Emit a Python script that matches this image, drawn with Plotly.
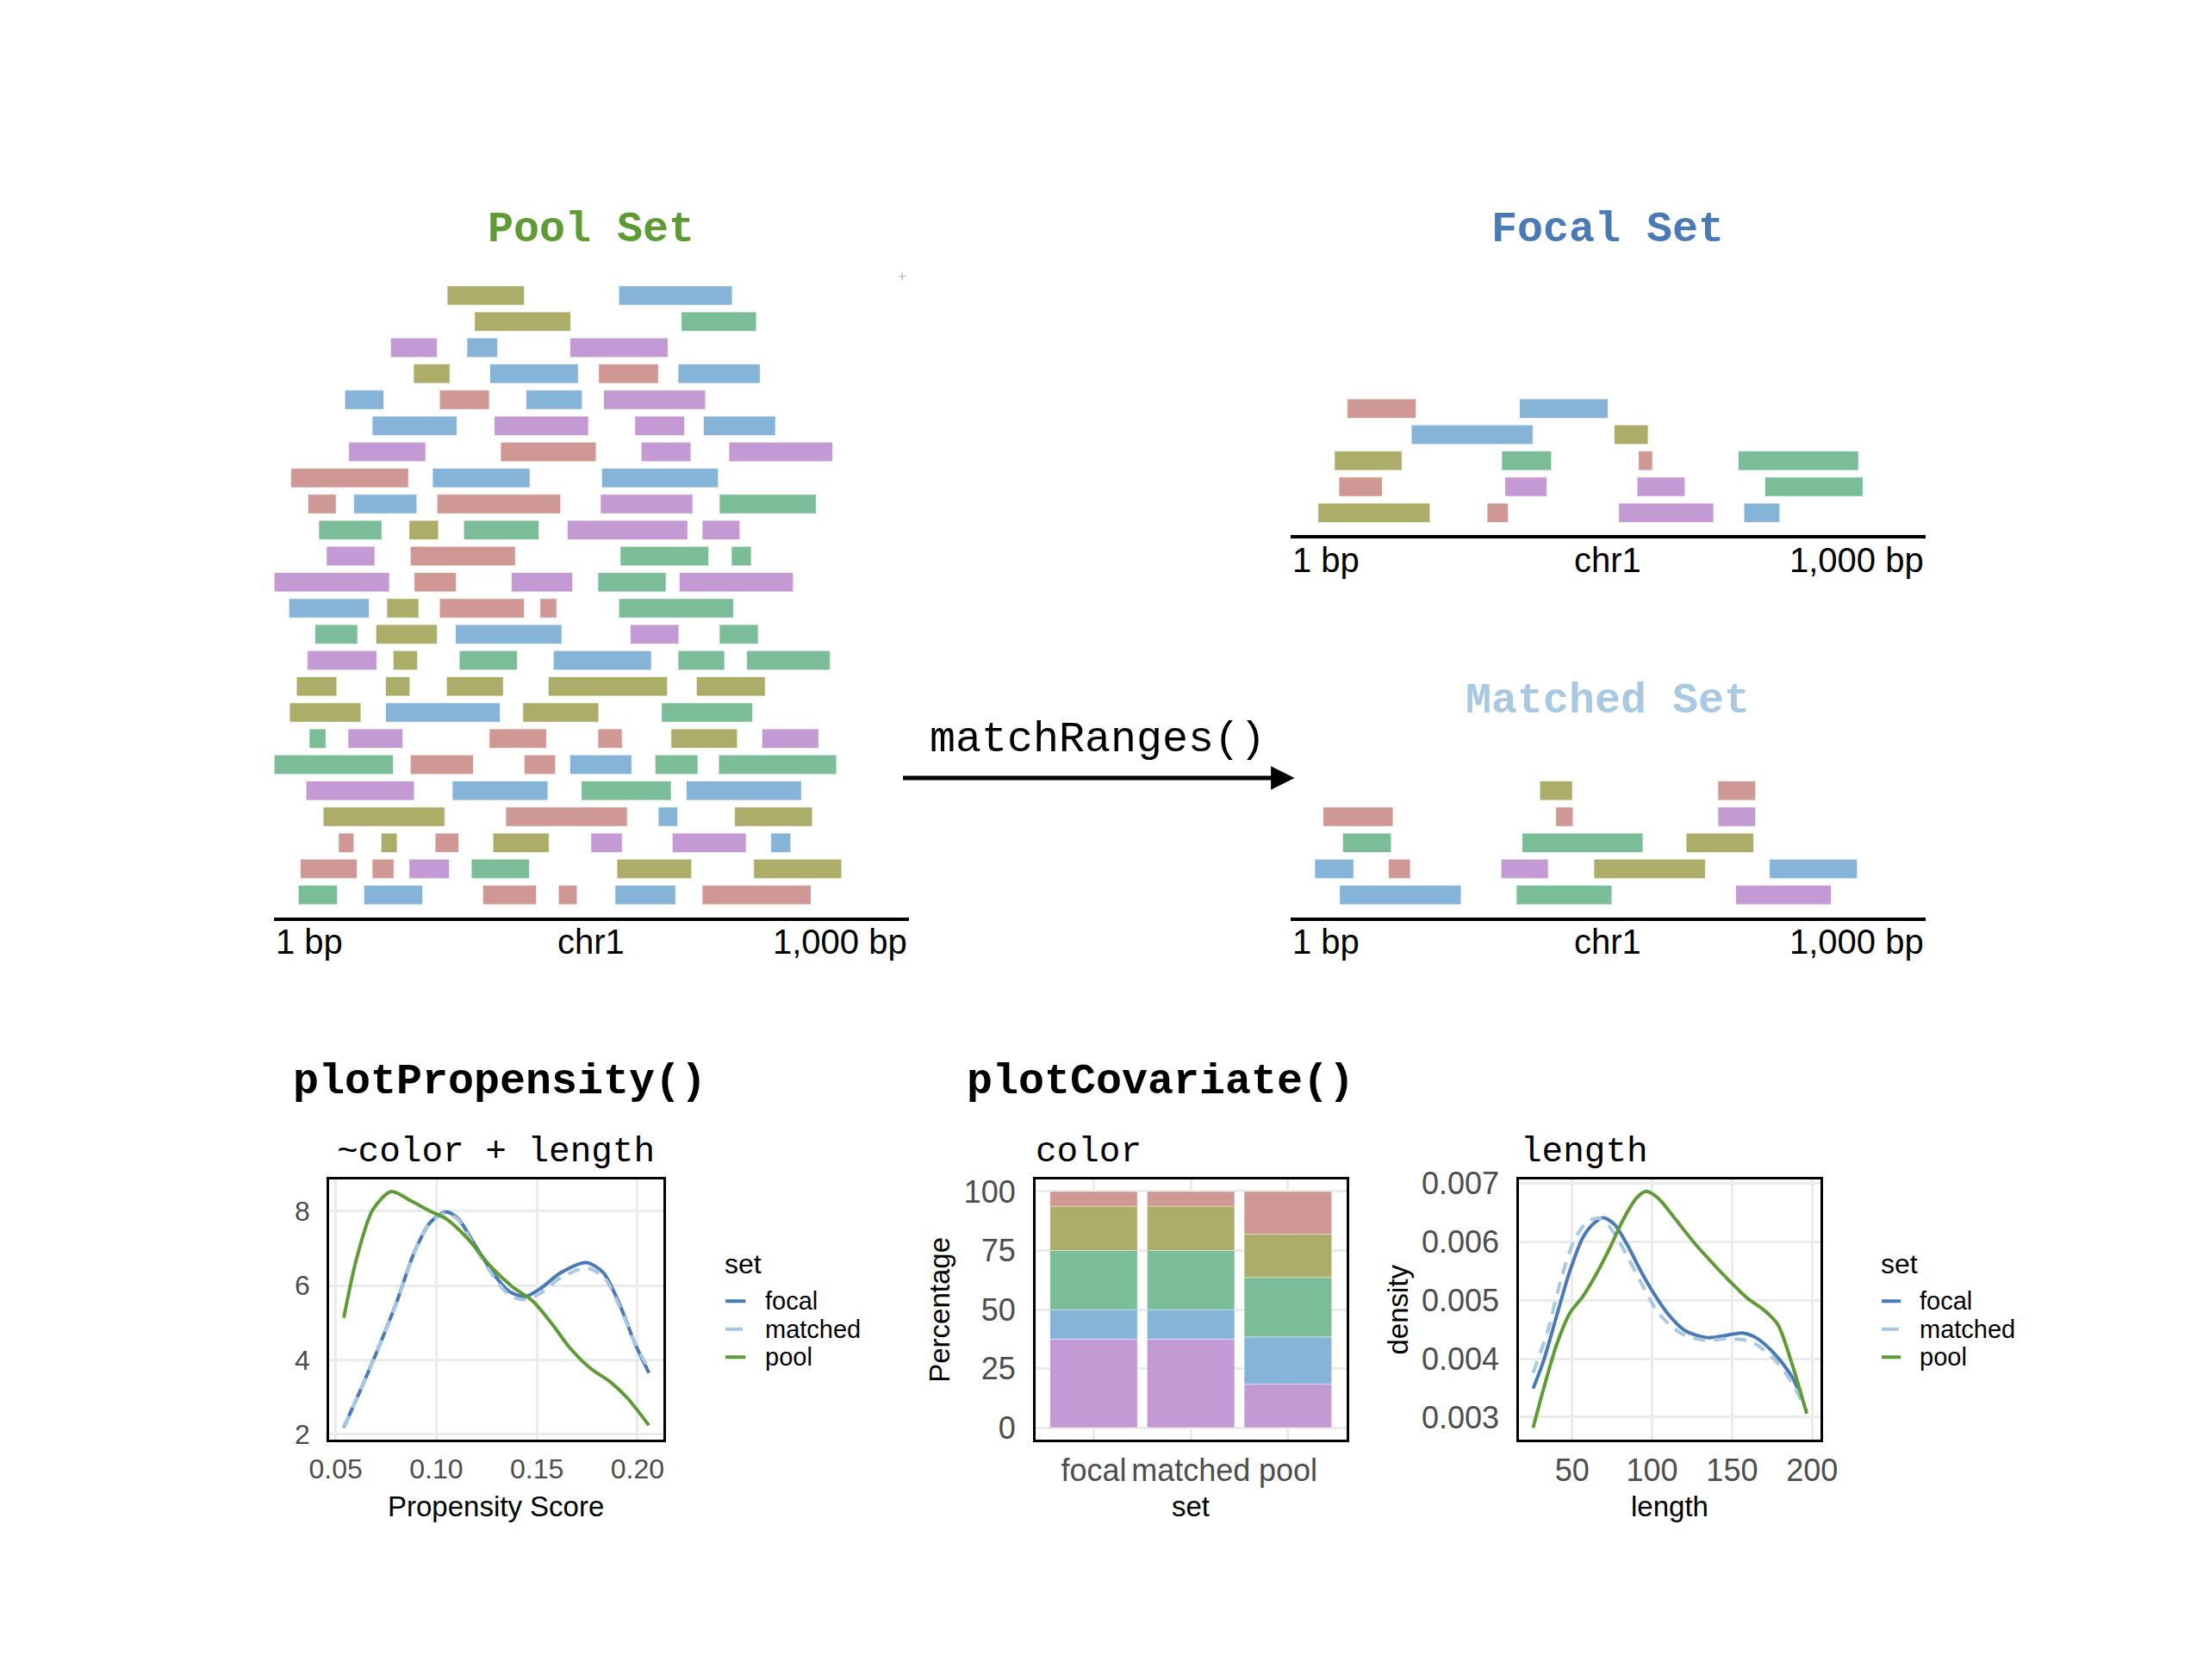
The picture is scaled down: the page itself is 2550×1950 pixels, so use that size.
"""Rebuild the matchRanges overview figure.

Top half: the pool / focal / matched genomic ranges stacked along chr1.
Bottom half: plotPropensity() and plotCovariate() style diagnostics.
"""

import numpy as np
import plotly.graph_objects as go

# page is 2550x1950; the html body keeps its default 8px margin
OFF = 8
FW, FH = 2550 - 2 * OFF, 1950 - 2 * OFF
SANS = "Liberation Sans, Arial, Helvetica, sans-serif"
MONO = "Courier New, Liberation Mono, monospace"

PALETTE = {"r": "#d09894", "o": "#adad6a", "g": "#7bbd99", "b": "#86b3d8", "p": "#c39ad3"}
SET_COLORS = {"focal": "#4a79b7", "matched": "#a9c9e2", "pool": "#5e9b34"}
SET_NAMES = ["focal", "matched", "pool"]

# ---- ranges on chr1 (bp), top row first; one colour code per range ----
pool_start = [
    [273, 543], [316, 641], [184, 304, 466], [220, 340, 511, 636],
    [112, 261, 397, 519], [155, 347, 568, 676], [118, 357, 578, 716],
    [27, 250, 516], [54, 126, 257, 514, 701], [71, 213, 299, 462, 674],
    [83, 215, 545, 720], [1, 221, 374, 510, 638], [24, 178, 261, 419, 543],
    [65, 161, 286, 561, 701], [53, 188, 292, 440, 636, 744],
    [36, 176, 272, 432, 665], [25, 176, 392, 610],
    [56, 117, 339, 510, 625, 768], [1, 215, 394, 466, 600, 700],
    [51, 281, 484, 649], [78, 365, 605, 725],
    [102, 169, 254, 345, 499, 627, 782], [42, 155, 213, 311, 540, 755],
    [39, 142, 329, 448, 537, 674],
]
pool_end = [
    [395, 722], [468, 760], [258, 353, 621], [278, 480, 606, 766],
    [174, 340, 486, 680], [289, 496, 647, 790], [240, 508, 657, 880],
    [213, 404, 700], [99, 226, 452, 660, 854], [171, 260, 418, 652, 734],
    [160, 381, 685, 752], [183, 288, 471, 618, 818], [151, 229, 395, 446, 724],
    [133, 258, 454, 638, 763], [163, 227, 384, 595, 710, 876],
    [100, 215, 362, 620, 774], [138, 357, 512, 754],
    [83, 204, 430, 549, 730, 858], [189, 315, 444, 564, 668, 886],
    [222, 432, 626, 831], [270, 557, 636, 848],
    [127, 195, 292, 434, 549, 744, 814], [132, 190, 277, 403, 658, 894],
    [101, 235, 414, 478, 633, 846],
]
pool_color = [
    "ob", "og", "pbp", "obrb", "brbp", "bppb", "prpp", "rbb", "rbrpg", "gogpp",
    "prgg", "prpgp", "borrg", "gobpg", "pogbgg", "ooooor", "obog", "gprrop",
    "grrbgg", "pbgb", "orbo", "roroppb", "rrpgoo", "gbrrbr",
]

focal_start = [[90, 361], [191, 510], [70, 333, 548, 705], [77, 338, 546, 747], [44, 310, 517, 714]]
focal_end = [[199, 501], [383, 564], [177, 412, 571, 895], [146, 405, 622, 902], [221, 344, 667, 771]]
focal_color = ["rb", "bo", "ogrg", "rppg", "orpb"]

matched_start = [[393, 673], [52, 418, 673], [83, 365, 623], [39, 155, 332, 478, 754], [78, 356, 701]]
matched_end = [[445, 733], [163, 446, 733], [160, 556, 730], [101, 190, 407, 654, 893], [270, 507, 852]]
matched_color = ["or", "rrp", "ggo", "brpob", "bgp"]

# ---- plotPropensity(): density of propensity score ----
prop_x = [0.054, 0.062, 0.070, 0.0806, 0.0888, 0.097, 0.105, 0.111, 0.119, 0.128,
          0.136, 0.144, 0.152, 0.162, 0.1745, 0.183, 0.191, 0.199, 0.2057]
prop_focal = [2.18, 3.15, 4.16, 5.60, 6.86, 7.70, 7.98, 7.79, 7.11, 6.35,
              5.85, 5.70, 5.93, 6.35, 6.62, 6.35, 5.51, 4.41, 3.65]
prop_matched = [2.20, 3.15, 4.14, 5.58, 6.84, 7.68, 7.95, 7.76, 7.05, 6.28,
                5.76, 5.62, 5.80, 6.22, 6.47, 6.25, 5.45, 4.42, 3.75]
prop_pool_x = [0.054, 0.0602, 0.0684, 0.0776, 0.0867, 0.097, 0.105, 0.1153, 0.1276,
               0.1378, 0.148, 0.1582, 0.1663, 0.1765, 0.1867, 0.1949, 0.2057]
prop_pool = [5.13, 6.69, 8.04, 8.53, 8.30, 8.00, 7.79, 7.28, 6.48,
             5.97, 5.58, 4.92, 4.33, 3.78, 3.40, 2.98, 2.24]

# ---- plotCovariate(): colour composition (%) per set, bottom level first ----
cov_levels = ["p", "b", "g", "o", "r"]
pct_purple = [37.5, 37.5, 18.4]
pct_blue = [12.5, 12.5, 20.0]
pct_green = [25.0, 25.0, 25.2]
pct_olive = [18.75, 18.75, 18.3]
pct_red = [6.25, 6.25, 18.1]

# ---- plotCovariate(): length densities ----
len_focal_x = [25.6, 32.0, 40.3, 48.6, 56.9, 63.8, 69.4, 76.3, 84.6, 92.9,
               101.2, 109.5, 120.6, 134.4, 148.3, 156.6, 164.9, 176.0, 187.0, 192.5]
len_focal = [0.00349, 0.00395, 0.00473, 0.00550, 0.00608, 0.00632, 0.00641, 0.00630, 0.00594, 0.00550,
             0.00511, 0.00478, 0.00448, 0.00436, 0.00441, 0.00444, 0.00436, 0.00410, 0.00371, 0.00340]
len_matched_x = [25.6, 34.8, 43.1, 51.4, 59.7, 66.6, 73.5, 81.8, 92.9, 104.0,
                 117.8, 131.6, 148.3, 162.1, 176.0, 187.0, 196.7]
len_matched = [0.00376, 0.00448, 0.00536, 0.00603, 0.00635, 0.00640, 0.00625, 0.00589, 0.00531, 0.00478,
               0.00444, 0.00432, 0.00434, 0.00429, 0.00400, 0.00361, 0.00310]
len_pool_x = [25.6, 32.0, 40.3, 48.6, 56.9, 65.2, 73.5, 81.8, 90.1, 96.2,
              103.9, 115.0, 126.1, 137.2, 148.3, 159.3, 170.4, 178.7, 187.0, 196.7]
len_pool = [0.00282, 0.00347, 0.00424, 0.00478, 0.00507, 0.00545, 0.00589, 0.00637, 0.00674, 0.00686,
            0.00674, 0.00637, 0.00599, 0.00565, 0.00533, 0.00504, 0.00482, 0.00458, 0.00395, 0.00306]

ROW_PX = 30.7      # pixel pitch of one stacked row of ranges
ROW_LIFT = 0.857   # bottom row centre above the axis line, in rows
KEY_PX = 33        # pixel pitch of legend entries
CURVE_DASH = "14px,10px"


def px(x):
    return (x - OFF) / FW


def py(y):
    return 1 - (y - OFF) / FH


def ranges_bar(starts, ends, colors, xa, ya):
    n = len(starts)
    rows, base, span, fill = [], [], [], []
    for i in range(n):
        for s, e, c in zip(starts[i], ends[i], colors[i]):
            rows.append(n - i)
            base.append(s)
            span.append(e - s)
            fill.append(PALETTE[c])
    return go.Bar(
        orientation="h", y=rows, x=span, base=base, width=0.76,
        marker=dict(color=fill, line=dict(color="rgba(255,255,255,0.8)", width=1.5)),
        xaxis=xa, yaxis=ya, showlegend=False, hoverinfo="skip",
    )


def range_axes(x0, x1, base_px, nrows, suffix):
    lo = 1 - ROW_LIFT
    hi = nrows + 0.5
    top_px = base_px - (hi - lo) * ROW_PX
    xa = dict(domain=[px(x0), px(x1)], range=[1, 1000], anchor="y" + suffix,
              showline=True, linecolor="black", linewidth=4, showticklabels=False,
              showgrid=False, zeroline=False, ticks="")
    ya = dict(domain=[py(base_px), py(top_px)], range=[lo, hi],
              anchor="x" + suffix, visible=False)
    return xa, ya


def note(text, x, y, size, color="black", family=SANS, **kw):
    d = dict(text=text, x=px(x), y=py(y), xref="paper", yref="paper", showarrow=False,
             font=dict(family=family, size=size, color=color),
             xanchor="center", yanchor="middle")
    d.update(kw)
    return d


def density_trace(name, xs, ys, suffix):
    return go.Scatter(
        x=xs, y=ys, mode="lines", name=name, showlegend=False, hoverinfo="skip",
        line=dict(color=SET_COLORS[name], width=4, shape="spline", smoothing=0.8,
                  dash=CURVE_DASH if name == "matched" else "solid"),
        xaxis="x" + suffix, yaxis="y" + suffix,
    )


def legend_block(fig, layout, ann, suffix, key_x0, key_x1, title_x, mid_px):
    """ggplot-style 'set' legend: short line keys with labels to their right."""
    for i, name in enumerate(SET_NAMES):
        fig.add_trace(go.Scatter(
            x=[0, 1], y=[i, i], mode="lines", showlegend=False, hoverinfo="skip",
            line=dict(color=SET_COLORS[name], width=4,
                      dash="20px,10px" if name == "matched" else "solid"),
            xaxis="x" + suffix, yaxis="y" + suffix,
        ))
        ann.append(dict(text=name, x=1, y=i, xref="x" + suffix, yref="y" + suffix,
                        xanchor="left", yanchor="middle", xshift=20, showarrow=False,
                        font=dict(family=SANS, size=29, color="black")))
    top_px = mid_px - 1.5 * KEY_PX
    layout["xaxis" + suffix] = dict(domain=[px(key_x0), px(key_x1)], range=[0, 1],
                                    visible=False, anchor="y" + suffix)
    layout["yaxis" + suffix] = dict(domain=[py(top_px + 3 * KEY_PX), py(top_px)],
                                    range=[2.5, -0.5], visible=False, anchor="x" + suffix)
    ann.append(note("set", title_x, 1472, 32, xanchor="left"))


def main():
    fig = go.Figure()
    layout = {}
    ann = []

    fig.add_trace(ranges_bar(pool_start, pool_end, pool_color, "x", "y"))
    fig.add_trace(ranges_bar(focal_start, focal_end, focal_color, "x2", "y2"))
    fig.add_trace(ranges_bar(matched_start, matched_end, matched_color, "x3", "y3"))

    for name, xs, ys in [("focal", prop_x, prop_focal), ("matched", prop_x, prop_matched),
                         ("pool", prop_pool_x, prop_pool)]:
        fig.add_trace(density_trace(name, xs, ys, "4"))

    # stacked colour composition
    bottom = np.zeros(len(SET_NAMES))
    for code, vals in zip(cov_levels, [pct_purple, pct_blue, pct_green, pct_olive, pct_red]):
        vals = np.array(vals)
        fig.add_trace(go.Bar(
            x=SET_NAMES, y=vals, base=bottom.copy(), width=0.9,
            marker=dict(color=PALETTE[code], line=dict(color="rgba(255,255,255,0.5)", width=0.8)),
            xaxis="x5", yaxis="y5", showlegend=False, hoverinfo="skip",
        ))
        bottom += vals

    for name, xs, ys in [("focal", len_focal_x, len_focal), ("matched", len_matched_x, len_matched),
                         ("pool", len_pool_x, len_pool)]:
        fig.add_trace(density_trace(name, xs, ys, "6"))

    layout["xaxis"], layout["yaxis"] = range_axes(300, 1050, 1064, len(pool_start), "")
    layout["xaxis2"], layout["yaxis2"] = range_axes(1500, 2250, 614, len(focal_start), "2")
    layout["xaxis3"], layout["yaxis3"] = range_axes(1500, 2250, 1064, len(matched_start), "3")

    box = dict(showline=True, mirror=True, linecolor="black", linewidth=2.5,
               gridcolor="#ebebeb", gridwidth=3, zeroline=False, ticks="")
    prop_font = dict(family=SANS, size=32, color="#4d4d4d")
    cov_font = dict(family=SANS, size=36, color="#4d4d4d")
    panel_y = [py(1679), py(1373)]

    layout["xaxis4"] = dict(box, domain=[px(365), px(760)], range=[0.0467, 0.2130], anchor="y4",
                            tickvals=[0.05, 0.10, 0.15, 0.20], tickfont=prop_font,
                            ticktext=["0.05", "0.10", "0.15", "0.20"], ticklabelstandoff=4)
    layout["yaxis4"] = dict(box, domain=panel_y, range=[1.86, 8.85], anchor="x4",
                            tickvals=[2, 4, 6, 8], tickfont=prop_font, ticklabelstandoff=13)
    layout["xaxis5"] = dict(box, domain=[px(1199), px(1566)], range=[-0.6, 2.6], anchor="y5",
                            type="category", tickfont=cov_font, ticklabelstandoff=2)
    layout["yaxis5"] = dict(box, domain=panel_y, range=[-5, 105], anchor="x5",
                            tickvals=[0, 25, 50, 75, 100], tickfont=cov_font,
                            ticklabelstandoff=13)
    layout["xaxis6"] = dict(box, domain=[px(1770), px(2126)], range=[16.8, 205.3], anchor="y6",
                            tickvals=[50, 100, 150, 200], tickfont=cov_font, ticklabelstandoff=2)
    layout["yaxis6"] = dict(box, domain=panel_y, range=[0.00262, 0.00706], anchor="x6",
                            tickvals=[0.003, 0.004, 0.005, 0.006, 0.007], tickfont=cov_font,
                            ticktext=["0.003", "0.004", "0.005", "0.006", "0.007"],
                            ticklabelstandoff=13)

    legend_block(fig, layout, ann, "7", 833, 857, 830, 1549)
    legend_block(fig, layout, ann, "8", 2198, 2221, 2195, 1549)

    ann += [
        note("<b>Pool Set</b>", 674, 254, 50, "#5e9b34", MONO),
        note("<b>Focal Set</b>", 1875, 254, 50, "#4a79b7", MONO),
        note("<b>Matched Set</b>", 1875, 809, 50, "#a9c9e2", MONO),
        note("matchRanges()", 1272, 855, 50, "black", MONO),
        note("<b>plotPropensity()</b>", 566, 1258, 50, "black", MONO),
        note("<b>plotCovariate()</b>", 1347, 1258, 50, "black", MONO),
        note("~color + length", 562, 1340, 41, "black", MONO),
        note("color", 1197, 1340, 41, "black", MONO, xanchor="left"),
        note("length", 1770, 1340, 41, "black", MONO, xanchor="left"),
        note("Propensity Score", 562, 1758, 33),
        note("set", 1382, 1758, 33),
        note("length", 1948, 1758, 33),
        note("Percentage", 1085, 1526, 33, textangle=-90),
        note("density", 1626, 1526, 33, textangle=-90),
        note("+", 1042, 309, 18, "#bbbbbb"),
        # matchRanges() arrow
        dict(text="", x=px(1505), y=py(900), xref="paper", yref="paper",
             ax=-456, ay=0, showarrow=True, arrowhead=2, arrowsize=1.1,
             arrowwidth=5, arrowcolor="black"),
    ]
    for axis_name, base_px in [("x", 1064), ("x2", 614), ("x3", 1064)]:
        for text, xv, anchor in [("1 bp", 1, "left"), ("chr1", 500, "center"),
                                 ("1,000 bp", 1000, "right")]:
            ann.append(dict(text=text, x=xv, xref=axis_name, y=py(base_px + 29), yref="paper",
                            xanchor=anchor, yanchor="middle", showarrow=False,
                            font=dict(family=SANS, size=40, color="black")))

    fig.update_layout(
        width=FW, height=FH, autosize=False, margin=dict(l=0, r=0, t=0, b=0, pad=0),
        paper_bgcolor="white", plot_bgcolor="white", barmode="overlay",
        font=dict(family=SANS), showlegend=False, annotations=ann, **layout,
    )
    fig.write_html("out.html")


if __name__ == "__main__":
    main()
